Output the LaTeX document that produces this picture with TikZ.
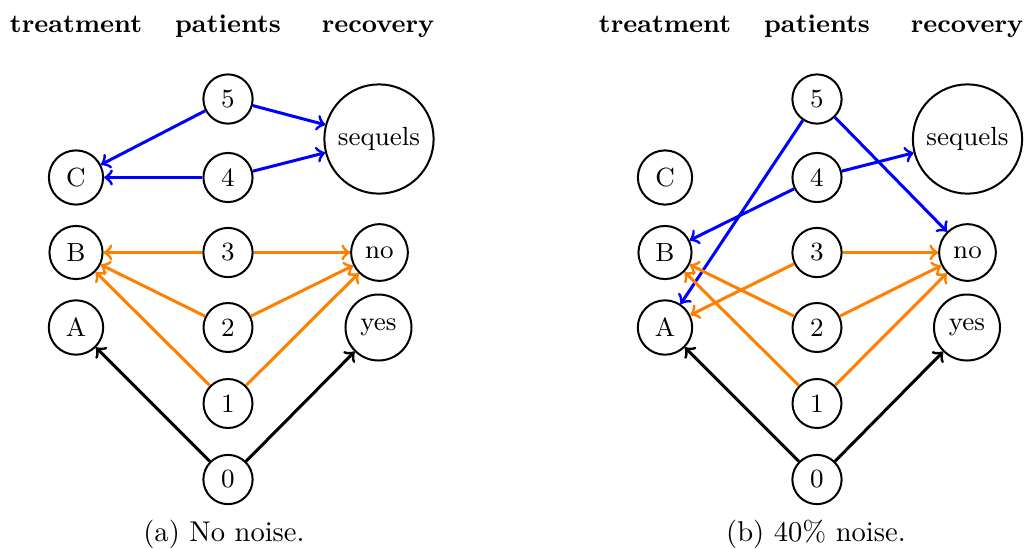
\documentclass[tikz,border=0pt]{standalone}
\definecolor{orangec}{RGB}{255,128,0}
\begin{document}
\begin{tikzpicture}[x=0.35pt,y=-0.35pt,
  pnode/.style={draw,circle,line width=0.7pt,font=\fontsize{9.2}{11}\selectfont},
  head/.style={font=\fontsize{9}{11}\selectfont\bfseries,anchor=base},
  captext/.style={font=\fontsize{10}{12}\selectfont,anchor=base},
  edge/.style={->,line width=1.05pt},
  be/.style={edge,blue},
  oe/.style={edge,orangec},
  ke/.style={edge,black}]
\useasboundingbox (0,0) rectangle (1024,548);
% ---------- panel (a)
\node[head] (ah1) at (76,32) {treatment};
\node[head] (ah2) at (228,32) {patients};
\node[head] (ah3) at (378,32) {recovery};
\node[pnode] (a5) at (228,99) {5};
\node[pnode] (a4) at (228,177.5) {4};
\node[pnode] (a3) at (228,252.5) {3};
\node[pnode] (a2) at (228,327.5) {2};
\node[pnode] (a1) at (228,403.5) {1};
\node[pnode] (a0) at (228,479.5) {0};
\node[pnode] (aC) at (76,177.5) {C};
\node[pnode] (aB) at (76,252.5) {B};
\node[pnode] (aA) at (76,327.5) {A};
\node[pnode] (aS) at (379,139) {sequels};
\node[pnode] (aN) at (379.5,252.5) {no};
\node[pnode] (aY) at (378.5,327.5) {yes};
\draw[be] (a5) -- (aC);
\draw[be] (a5) -- (aS);
\draw[be] (a4) -- (aC);
\draw[be] (a4) -- (aS);
\draw[oe] (a3) -- (aB);
\draw[oe] (a3) -- (aN);
\draw[oe] (a2) -- (aB);
\draw[oe] (a2) -- (aN);
\draw[oe] (a1) -- (aB);
\draw[oe] (a1) -- (aN);
\draw[ke] (a0) -- (aA);
\draw[ke] (a0) -- (aY);
\node[captext] (acap) at (224,541.5) {(a) No noise.};
% ---------- panel (b)
\node[head] (bh1) at (665,32) {treatment};
\node[head] (bh2) at (817,32) {patients};
\node[head] (bh3) at (967,32) {recovery};
\node[pnode] (b5) at (817,99) {5};
\node[pnode] (b4) at (817,177.5) {4};
\node[pnode] (b3) at (817,252.5) {3};
\node[pnode] (b2) at (817,327.5) {2};
\node[pnode] (b1) at (817,403.5) {1};
\node[pnode] (b0) at (817,479.5) {0};
\node[pnode] (bC) at (665,177.5) {C};
\node[pnode] (bB) at (665,252.5) {B};
\node[pnode] (bA) at (665,327.5) {A};
\node[pnode] (bS) at (967.5,139) {sequels};
\node[pnode] (bN) at (967.5,252.5) {no};
\node[pnode] (bY) at (967,327.5) {yes};
\draw[be] (b5) -- (bA);
\draw[be] (b5) -- (bN);
\draw[be] (b4) -- (bB);
\draw[be] (b4) -- (bS);
\draw[oe] (b3) -- (bA);
\draw[oe] (b3) -- (bN);
\draw[oe] (b2) -- (bB);
\draw[oe] (b2) -- (bN);
\draw[oe] (b1) -- (bB);
\draw[oe] (b1) -- (bN);
\draw[ke] (b0) -- (bA);
\draw[ke] (b0) -- (bY);
\node[captext] (bcap) at (816,541.5) {(b) 40\% noise.};
\end{tikzpicture}
\end{document}
